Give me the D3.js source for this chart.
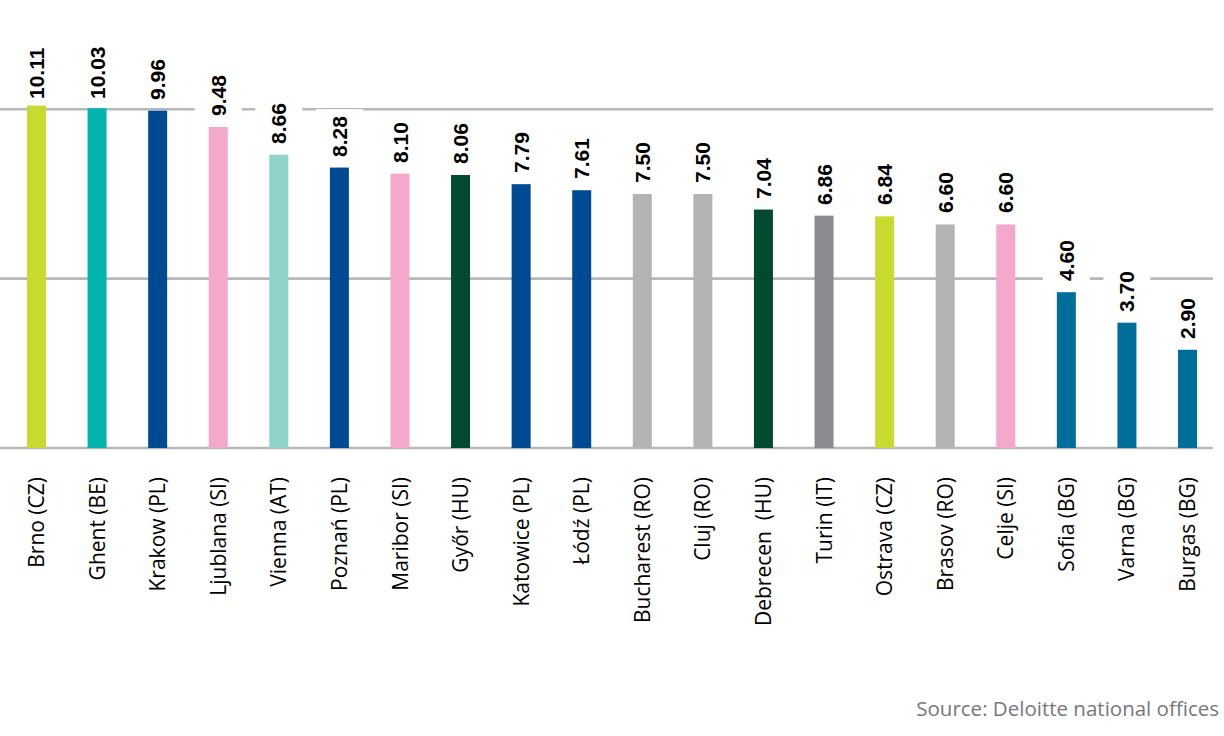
<!DOCTYPE html>
<html>
<head>
<meta charset="utf-8">
<script src="https://cdn.jsdelivr.net/npm/d3@7"></script>
<style>
  html, body { margin: 0; padding: 0; background: #fff; }
  svg { display: block; }
</style>
</head>
<body>
<svg id="chart" width="1224" height="736"></svg>
<script>
// ---- data ----
const cities = ["Brno (CZ)", "Ghent (BE)", "Krakow (PL)", "Ljublana (SI)", "Vienna (AT)", "Poznań (PL)", "Maribor (SI)", "Győr (HU)", "Katowice (PL)", "Łódź (PL)", "Bucharest (RO)", "Cluj (RO)", "Debrecen  (HU)", "Turin (IT)", "Ostrava (CZ)", "Brasov (RO)", "Celje (SI)", "Sofia (BG)", "Varna (BG)", "Burgas (BG)"];
const values = [10.11, 10.03, 9.96, 9.48, 8.66, 8.28, 8.10, 8.06, 7.79, 7.61, 7.50, 7.50, 7.04, 6.86, 6.84, 6.60, 6.60, 4.60, 3.70, 2.90];
const gridValues = [0, 5, 10];
const sourceText = "Source: Deloitte national offices";

// ---- styles ----
const countryColor = {
  CZ: "#c8d92f", BE: "#00b5ad", PL: "#004a93", SI: "#f4a8cb", AT: "#8fd3ca",
  HU: "#004b2f", RO: "#b1b4b4", IT: "#898b8e", BG: "#006e9a"
};
const data = cities.map((c, i) => ({ city: c, value: values[i], country: c.match(/\(([A-Z]+)\)/)[1] }));

const svg = d3.select("#chart");
const x = d3.scaleBand().domain(cities).range([6.2, 1217.8]).paddingInner(0.6864).paddingOuter(0.3432);
const y = d3.scaleLinear().domain([0, 10]).range([448, 109.3]);
const cx = d => x(d.city) + x.bandwidth() / 2;

// gridlines
svg.append("g").selectAll("line").data(gridValues).join("line")
  .attr("x1", 0).attr("x2", 1213)
  .attr("y1", d => y(d)).attr("y2", d => y(d))
  .attr("stroke", "#b6b8b9").attr("stroke-width", 2.6);

// bars
svg.append("g").selectAll("rect").data(data).join("rect")
  .attr("x", d => x(d.city))
  .attr("width", x.bandwidth())
  .attr("y", d => y(d.value))
  .attr("height", d => y(0) - y(d.value))
  .attr("fill", d => countryColor[d.country]);

// value label geometry (Liberation Sans Bold digits = 0.556em, period = 0.278em)
const valSize = 21;
data.forEach(d => {
  const s = d.value.toFixed(2);
  d.label = s;
  d.len = (s.length - 1) * 0.556 * valSize + 0.278 * valSize;
  d.by = Math.round(Math.max(y(d.value) - 11, 46 + d.len));
});

// label backgrounds
svg.append("g").selectAll("rect").data(data).join("rect")
  .attr("x", d => cx(d) - 23.5).attr("width", 47)
  .attr("y", d => d.by - d.len - 7).attr("height", d => d.len + 12)
  .attr("fill", "#fff");

// value labels
svg.append("g").selectAll("text").data(data).join("text")
  .text(d => d.label)
  .attr("transform", d => `translate(${cx(d)},${d.by}) rotate(-90)`)
  .attr("dy", "0.36em")
  .attr("text-anchor", "start")
  .attr("font-family", "Liberation Sans, Arial, sans-serif")
  .attr("font-weight", "700")
  .attr("font-size", valSize)
  .attr("fill", "#000");

// category labels
svg.append("g").selectAll("text").data(data).join("text")
  .text(d => d.city)
  .attr("transform", d => `translate(${cx(d)},477) rotate(-90)`)
  .attr("text-anchor", "end")
  .attr("dy", "0.36em")
  .style("white-space", "pre")
  .style("font-family", "'Open Sans', sans-serif")
  .style("font-size", "21px")
  .attr("fill", "#000");

// source
svg.append("text")
  .text(sourceText)
  .attr("x", 1219).attr("y", 716)
  .attr("text-anchor", "end")
  .style("font-family", "'Open Sans', sans-serif")
  .style("font-size", "20.5px")
  .attr("fill", "#75787b");
</script>
</body>
</html>
